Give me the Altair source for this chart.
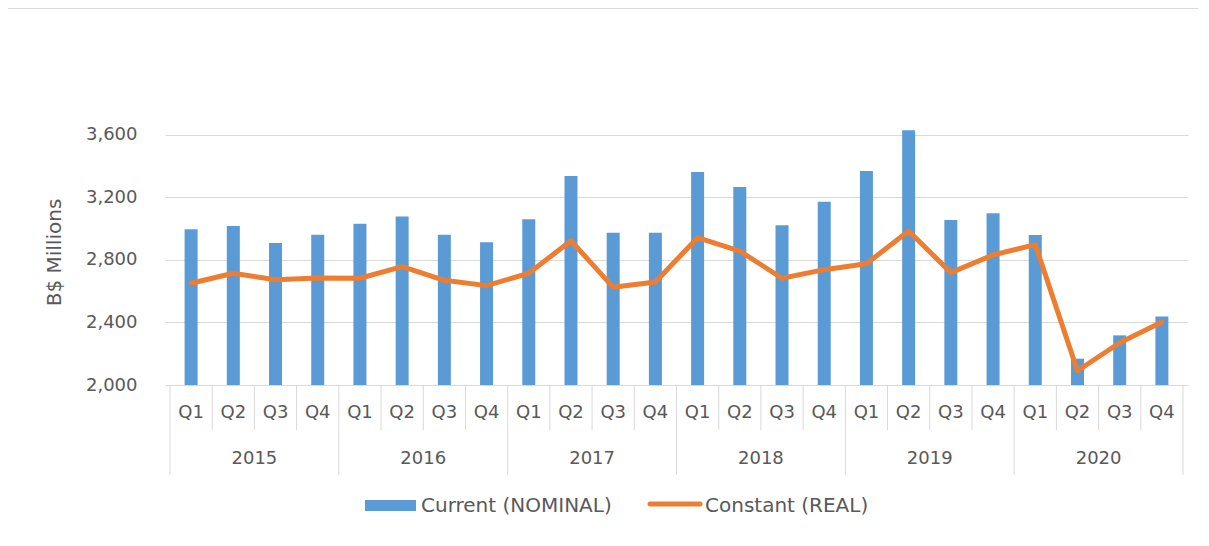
import altair as alt
import pandas as pd

years = ["2015", "2016", "2017", "2018", "2019", "2020"]
quarters = ["Q1", "Q2", "Q3", "Q4"]
nominal = [2995, 3016, 2907, 2960, 3030, 3076, 2960, 2912,
           3059, 3336, 2973, 2973, 3361, 3265, 3020, 3171,
           3367, 3627, 3054, 3097, 2958, 2168, 2317, 2437]
real = [2650, 2714, 2673, 2684, 2682, 2756, 2669, 2635,
        2714, 2922, 2624, 2658, 2941, 2856, 2682, 2737,
        2775, 2984, 2718, 2831, 2897, 2091, 2270, 2403]
y_ticks = [2000, 2400, 2800, 3200, 3600]
series_names = ["Current (NOMINAL)", "Constant (REAL)"]

BLUE = "#5B9BD5"
ORANGE = "#ED7D31"
GRID = "#D9D9D9"
TXT = "#595959"
FONT = "DejaVu Sans"

rows = []
for i, (n, r) in enumerate(zip(nominal, real)):
    rows.append({"pos": i + 0.5, "quarter": quarters[i % 4],
                 "year": years[i // 4], "nominal": n, "real": r, "base": y_ticks[0]})
df = pd.DataFrame(rows)

qb = pd.DataFrame({"b": [b for b in range(25) if b % 4 != 0]})
yb = pd.DataFrame({"b": [b for b in range(25) if b % 4 == 0]})
ylab = pd.DataFrame({"year": years, "pos": [4 * k + 2 for k in range(len(years))]})

W, H = 1023, 313
xscale = alt.Scale(domain=[0, 24], nice=False, zero=False)
yscale = alt.Scale(domain=[2000, 4000], nice=False, zero=False)

base = alt.Chart(df)

bars = base.mark_bar(color=BLUE, size=13, orient="vertical").encode(
    x=alt.X("pos:Q", scale=xscale, axis=None),
    y=alt.Y("nominal:Q", scale=yscale,
            axis=alt.Axis(values=y_ticks, format=",d", grid=True, gridColor=GRID,
                          gridWidth=1, domain=False, ticks=False, labelPadding=28,
                          labelFontSize=18, labelColor=TXT, labelFont=FONT,
                          title="B$ Millions", titleFontSize=20, titleColor=TXT,
                          titleFont=FONT, titleFontWeight="normal",
                          titleX=-111, titleY=180, titleAngle=270,
                          titleAlign="center", titleBaseline="middle")),
    y2="base:Q",
)

line = base.mark_line(color=ORANGE, strokeWidth=5, strokeCap="round",
                      strokeJoin="round").encode(
    x=alt.X("pos:Q", scale=xscale),
    y=alt.Y("real:Q", scale=yscale),
)

qlabels = base.mark_text(fontSize=18, color=TXT, font=FONT, baseline="middle").encode(
    x=alt.X("pos:Q", scale=xscale), y=alt.value(341), text="quarter:N")

ylabels = alt.Chart(ylab).mark_text(fontSize=18, color=TXT, font=FONT,
                                    baseline="middle").encode(
    x=alt.X("pos:Q", scale=xscale), y=alt.value(387), text="year:N")

qsep = alt.Chart(qb).mark_rule(color=GRID, strokeWidth=1).encode(
    x=alt.X("b:Q", scale=xscale), y=alt.value(H), y2=alt.value(358))
ysep = alt.Chart(yb).mark_rule(color=GRID, strokeWidth=1).encode(
    x=alt.X("b:Q", scale=xscale), y=alt.value(H), y2=alt.value(403))

leg1 = pd.DataFrame({"label": [series_names[0]]})
leg2 = pd.DataFrame({"label": [series_names[1]]})
leg_rect = alt.Chart(leg1).mark_rect(color=BLUE).encode(
    x=alt.value(200), x2=alt.value(251), y=alt.value(428), y2=alt.value(439))
leg_rect_t = alt.Chart(leg1).mark_text(fontSize=20, color=TXT, font=FONT,
                                       align="left", baseline="middle").encode(
    x=alt.value(256), y=alt.value(434), text="label:N")
leg_line = alt.Chart(leg2).mark_rule(color=ORANGE, strokeWidth=5,
                                     strokeCap="round").encode(
    x=alt.value(485), x2=alt.value(535), y=alt.value(432))
leg_line_t = alt.Chart(leg2).mark_text(fontSize=20, color=TXT, font=FONT,
                                       align="left", baseline="middle").encode(
    x=alt.value(540), y=alt.value(434), text="label:N")

border = alt.Chart(leg1).mark_rule(color=GRID, strokeWidth=1).encode(
    x=alt.value(-160), x2=alt.value(W + 20), y=alt.value(-63.5))

chart = alt.layer(
    bars, line, qsep, ysep, qlabels, ylabels,
    leg_rect, leg_rect_t, leg_line, leg_line_t, border
).properties(
    width=W, height=H,
    autosize=alt.AutoSizeParams(type="none"),
    padding={"left": 157, "top": 64, "right": 10, "bottom": 150},
).configure_view(stroke=None)

chart.save("out.html", embed_options={"renderer": "svg", "actions": False})
